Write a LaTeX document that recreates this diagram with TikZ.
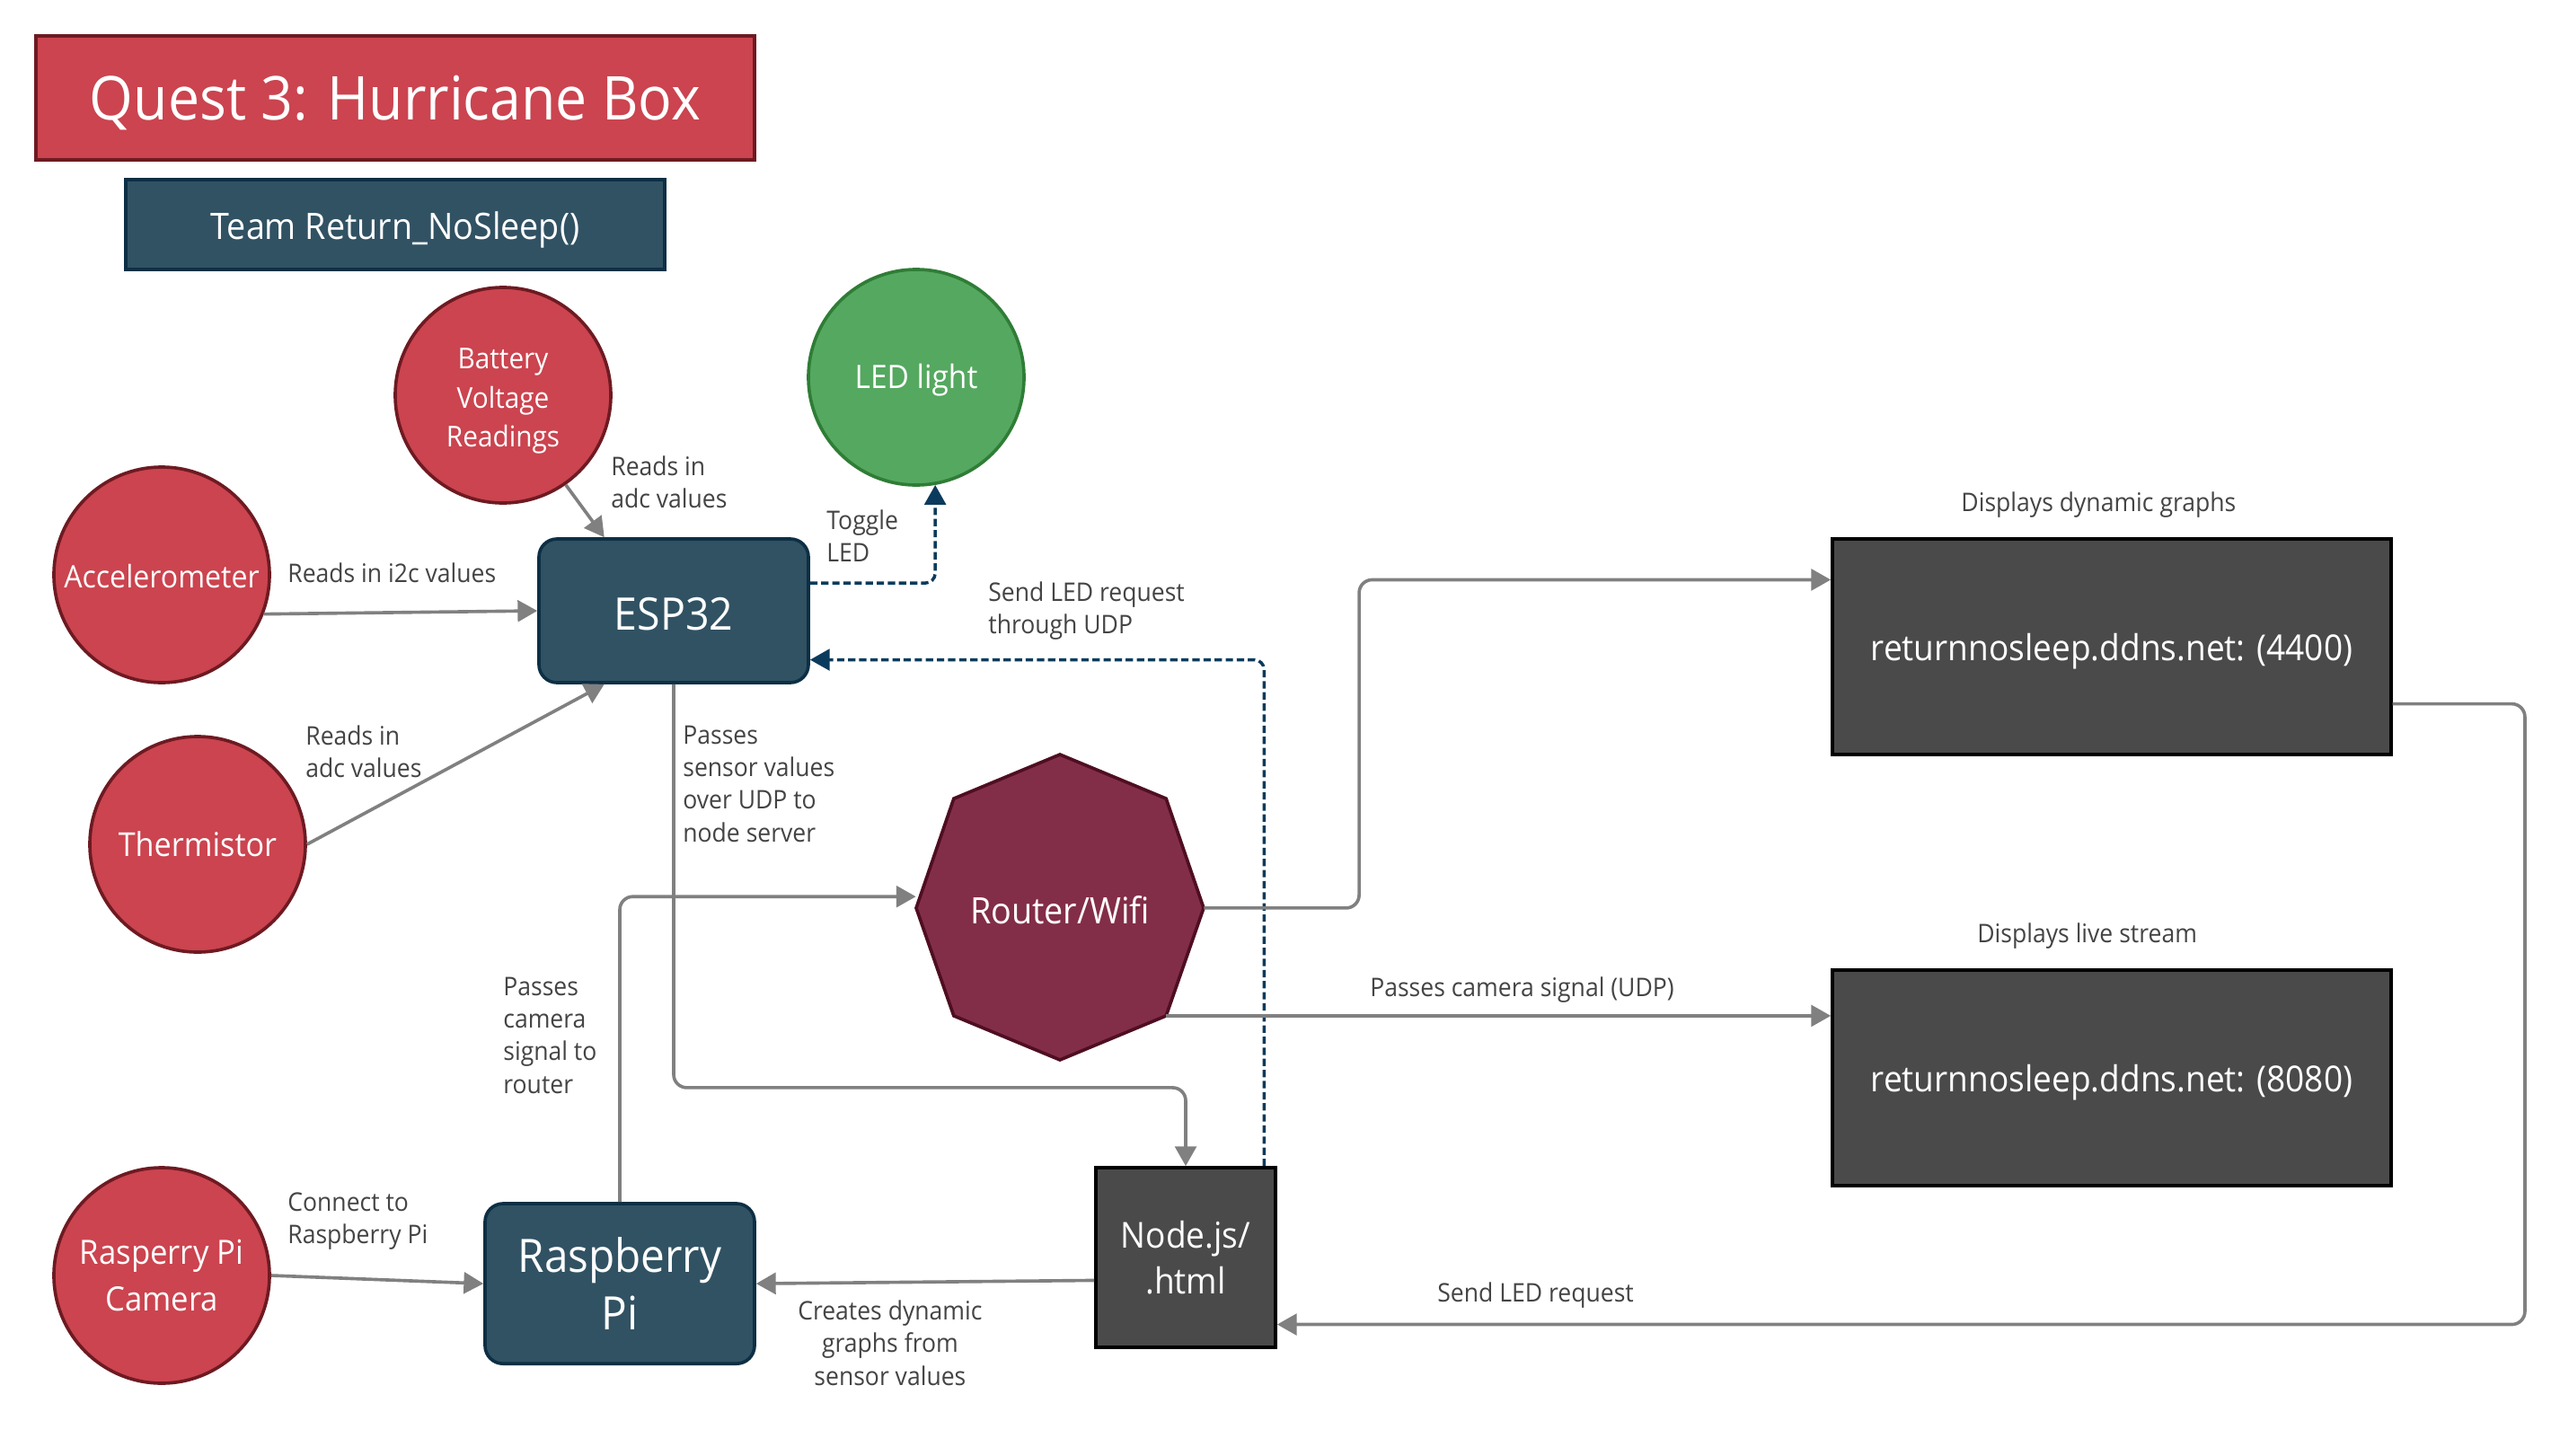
\documentclass[tikz,border=0pt]{standalone}
\usepackage{fontspec}
\setmainfont[FakeStretch=0.93]{Open Sans}
\usetikzlibrary{arrows.meta}
\definecolor{redfill}{HTML}{CB444F}
\definecolor{reddraw}{HTML}{6E1A22}
\definecolor{bluefill}{HTML}{315263}
\definecolor{bluedraw}{HTML}{0D2F44}
\definecolor{greenfill}{HTML}{55A860}
\definecolor{greendraw}{HTML}{2F7D36}
\definecolor{octfill}{HTML}{832E48}
\definecolor{octdraw}{HTML}{4F0E22}
\definecolor{darkfill}{HTML}{4A4A4A}
\definecolor{linegray}{HTML}{808080}
\definecolor{dashblue}{HTML}{0B3B5C}
\definecolor{labelgray}{HTML}{444444}
\newcommand{\dropby}[2]{\raisebox{-#1}[\height][\depth]{#2}}
\tikzset{
  redcirc/.style={circle, draw=reddraw, fill=redfill, line width=2pt, minimum size=132pt, inner sep=0pt, text=white, align=center},
  greencirc/.style={circle, draw=greendraw, fill=greenfill, line width=2pt, minimum size=132pt, inner sep=0pt, text=white, align=center},
  bluebox/.style={rectangle, rounded corners=11pt, draw=bluedraw, fill=bluefill, line width=2pt, inner sep=0pt, text=white, align=center},
  darkbox/.style={rectangle, draw=black, fill=darkfill, line width=2pt, inner sep=0pt, text=white, align=center},
  conn/.style={draw=linegray, line width=2pt, rounded corners=8pt, -{Triangle[length=12pt,width=13pt]}},
  dconn/.style={draw=dashblue, line width=1.9pt, rounded corners=6pt, dash pattern=on 4.5pt off 2.3pt, -{Triangle[length=12pt,width=13pt,fill=dashblue]}},
  lbl/.style={text=labelgray, font=\fontsize{15.7}{20}\selectfont, inner sep=0pt, align=left},
}
\begin{document}
\begin{tikzpicture}[x=1pt,y=-1pt]
\useasboundingbox[fill=white] (0,0) rectangle (1567.5,891);
% header
\node[rectangle, draw=reddraw, fill=redfill, line width=2pt, minimum width=440pt, minimum height=76pt, inner sep=0pt, text=white, font=\fontsize{37}{42}\selectfont] (title) at (242,60) {\dropby{3pt}{Quest 3: Hurricane Box}};
\node[rectangle, draw=bluedraw, fill=bluefill, line width=2pt, minimum width=330pt, minimum height=55pt, inner sep=0pt, text=white, font=\fontsize{22.3}{26}\selectfont] (team) at (242,137.5) {\dropby{3.5pt}{Team Return\_NoSleep()}};
% circles
\node[redcirc, font=\fontsize{17.6}{24}\selectfont] (batt) at (308,242) {\dropby{3pt}{\begin{tabular}{@{}c@{}}Battery\\Voltage\\Readings\end{tabular}}};
\node[greencirc, font=\fontsize{19.8}{24}\selectfont] (led) at (561,231) {\dropby{2pt}{LED light}};
\node[redcirc, font=\fontsize{19}{24}\selectfont] (acc) at (99,352) {\dropby{1pt}{Accelerometer}};
\node[redcirc, font=\fontsize{20.2}{24}\selectfont] (therm) at (121,517) {Thermistor};
\node[redcirc, font=\fontsize{20.5}{29}\selectfont] (cam) at (99,781) {Rasperry Pi\\Camera};
% boxes
\node[bluebox, minimum width=165pt, minimum height=88pt, font=\fontsize{27.5}{32}\selectfont] (esp) at (412.5,374) {\dropby{2pt}{ESP32}};
\node[bluebox, minimum width=165pt, minimum height=98pt, font=\fontsize{28.2}{35}\selectfont] (rpi) at (379.5,786) {Raspberry\\Pi};
\node[darkbox, minimum width=110pt, minimum height=110pt, font=\fontsize{21.9}{28}\selectfont] (node) at (726,770) {Node.js/\\.html};
\node[darkbox, minimum width=342pt, minimum height=132pt, font=\fontsize{21.9}{26}\selectfont] (web) at (1293,396) {\dropby{3pt}{returnnosleep.ddns.net: (4400)}};
\node[darkbox, minimum width=342pt, minimum height=132pt, font=\fontsize{21.9}{26}\selectfont] (live) at (1293,660) {\dropby{3pt}{returnnosleep.ddns.net: (8080)}};
% router octagon
\draw[draw=octdraw, fill=octfill, line width=2pt] (649,462) -- (714,489) -- (737,556) -- (714,622) -- (649,649) -- (584,622) -- (561,556) -- (584,489) -- cycle;
\node[minimum width=176pt, minimum height=187pt, inner sep=0pt, text=white, font=\fontsize{22.3}{26}\selectfont] (router) at (649,556) {\dropby{1pt}{Router/Wifi}};
\coordinate (routerLR) at (714,622);
% connectors
\draw[conn] (batt.-55) -- ([xshift=41pt]esp.north west);
\draw[conn] (acc.-21) -- (esp.west);
\draw[conn] (therm.east) -- ([xshift=41pt]esp.south west);
\draw[dconn] ([yshift=17pt]esp.east) -| (led.-80);
\draw[dconn] ([xshift=-8pt]node.north east) |- ([yshift=-30pt]esp.east);
\draw[conn] (esp.south) |- ([yshift=48pt]node.north) -- (node.north);
\draw[conn] (rpi.north) |- ([yshift=7pt]router.west);
\draw[conn] (router.east) -- ++(95,0) |- ([yshift=41pt]web.west);
\draw[conn] (routerLR) -- ([yshift=38pt]live.west);
\draw[conn] ([yshift=-35pt]web.east) -- ++(81,0) |- ([yshift=-41pt]node.east);
\draw[conn] (cam.east) -- (rpi.west);
\draw[conn] ([yshift=-14pt]node.west) -- (rpi.east);
% labels
\node[lbl, anchor=north west] (l1) at (374,279) {Reads in\\adc values};
\node[lbl, anchor=west] (l2) at (176,351) {Reads in i2c values};
\node[lbl, anchor=north west] (l3) at (187,444) {Reads in\\adc values};
\node[lbl, anchor=north west] (l4) at (506,312) {Toggle\\LED};
\node[lbl, anchor=north west] (l5) at (605,356) {Send LED request\\through UDP};
\node[lbl, anchor=north west] (l6) at (418,444) {Passes\\sensor values\\over UDP to\\node server};
\node[lbl] (l7) at (1285,309) {Displays dynamic graphs};
\node[lbl] (l8) at (1278,573) {Displays live stream};
\node[lbl] (l9) at (932,606) {Passes camera signal (UDP)};
\node[lbl, anchor=north west] (l10) at (308,598) {Passes\\camera\\signal to\\router};
\node[lbl, anchor=north west] (l11) at (176,730) {Connect to\\Raspberry Pi};
\node[lbl, align=center, anchor=north] (l12) at (545,796) {Creates dynamic\\graphs from\\sensor values};
\node[lbl, anchor=west] (l13) at (880,793) {Send LED request};
\end{tikzpicture}
\end{document}
